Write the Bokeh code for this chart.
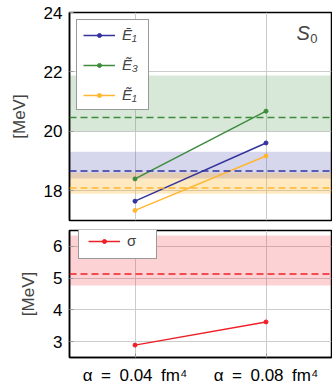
from bokeh.plotting import figure
from bokeh.layouts import column
from bokeh.models import Range1d, FixedTicker, Span, BoxAnnotation, Label
from bokeh.embed import file_html
from bokeh.resources import INLINE

alpha = [0.04, 0.08]
alpha_labels = {0.04: "α\u2002=\u20020.04\u2002fm⁴", 0.08: "α\u2002=\u20020.08\u2002fm⁴"}

# top panel series
E1bar = [17.65, 19.61]
E3til = [18.40, 20.68]
E1til = [17.34, 19.17]
# reference values (dashed) and bands
E1bar_ref, E1bar_lo, E1bar_hi = 18.67, 18.41, 19.31
E3til_ref, E3til_lo, E3til_hi = 20.47, 20.00, 21.88
E1til_ref, E1til_lo, E1til_hi = 18.09, 17.90, 18.61

# bottom panel
sigma = [2.89, 3.62]
sigma_ref, sigma_lo, sigma_hi = 5.13, 4.77, 6.34

top_ticks = [18, 20, 22, 24]
bot_ticks = [3, 4, 5, 6]

BLUE = "#33339e"
GREEN = "#3c8c3c"
ORANGE = "#ffb732"
RED = "#ee2026"
FONT = "Liberation Sans"


def style(p, ticks):
    p.outline_line_color = "black"
    p.outline_line_width = 1.5
    p.xaxis.ticker = FixedTicker(ticks=alpha)
    p.yaxis.ticker = FixedTicker(ticks=ticks)
    p.xgrid.grid_line_color = "#cccccc"
    p.ygrid.grid_line_color = "#cccccc"
    for ax in p.axis:
        ax.axis_line_color = "black"
        ax.axis_line_width = 1.5
        ax.major_tick_in = 4
        ax.major_tick_out = 0
        ax.minor_tick_line_color = None
        ax.major_tick_line_color = "#999999"
        ax.major_label_text_font = FONT
        ax.major_label_text_font_size = "17px"
        ax.major_label_text_color = "black"
    p.yaxis.axis_label = "[MeV]"
    p.yaxis.axis_label_text_font = FONT
    p.yaxis.axis_label_text_font_style = "normal"
    p.yaxis.axis_label_text_font_size = "17px"
    p.yaxis.axis_label_standoff = 12
    p.yaxis.major_label_standoff = 7


def band(p, lo, hi, ref, color, a):
    p.add_layout(BoxAnnotation(bottom=lo, top=hi, fill_color=color, fill_alpha=a,
                               line_color=None, level="underlay"))
    p.add_layout(Span(location=ref, dimension="width", line_color=color,
                      line_width=1.5, line_dash="7 4"))


def series(p, y, color, label):
    p.line(alpha, y, line_color=color, line_width=1.5, legend_label=label)
    p.scatter(alpha, y, size=4, color=color, legend_label=label)


def style_legend(p, loc, pad, spacing):
    lg = p.legend[0]
    lg.location = loc
    lg.margin = 7
    lg.padding = pad
    lg.spacing = spacing
    lg.label_text_font = FONT
    lg.label_text_font_size = "15px"
    lg.label_text_font_style = "italic"
    lg.label_standoff = 7
    lg.glyph_width = 32
    lg.glyph_height = 10
    lg.label_height = 10
    lg.border_line_color = "#333333"
    lg.border_line_width = 1
    lg.background_fill_alpha = 1


p1 = figure(width=332, height=225, x_range=Range1d(0.02, 0.1), y_range=Range1d(17, 24),
            output_backend="svg", toolbar_location=None,
            min_border_left=69, min_border_right=1, min_border_top=12, min_border_bottom=5)
style(p1, top_ticks)
p1.xaxis.visible = False
band(p1, E3til_lo, E3til_hi, E3til_ref, GREEN, 0.2)
band(p1, E1bar_lo, E1bar_hi, E1bar_ref, BLUE, 0.2)
band(p1, E1til_lo, E1til_hi, E1til_ref, ORANGE, 0.3)
series(p1, E1bar, BLUE, "Ē₁")
series(p1, E3til, GREEN, "Ẽ₃")
series(p1, E1til, ORANGE, "Ẽ₁")
style_legend(p1, "top_left", 6, 13)
p1.add_layout(Label(x=0.0934, y=23.31, text="S", text_align="right", text_baseline="middle",
                    text_font=FONT, text_font_size="20px", text_font_style="italic"))
p1.add_layout(Label(x=0.0935, y=23.11, text="0", text_align="left", text_baseline="middle",
                    text_font=FONT, text_font_size="13px"))

p2 = figure(width=332, height=162, x_range=Range1d(0.02, 0.1), y_range=Range1d(2.5, 6.5),
            output_backend="svg", toolbar_location=None,
            min_border_left=69, min_border_right=1, min_border_top=5, min_border_bottom=29)
style(p2, bot_ticks)
p2.xaxis.major_label_overrides = alpha_labels
p2.xaxis.major_label_standoff = 8
band(p2, sigma_lo, sigma_hi, sigma_ref, RED, 0.2)
series(p2, sigma, RED, "σ")
style_legend(p2, (9, 98), 9, 17)
p2.legend[0].label_text_font_style = "normal"

layout = column(p1, p2, spacing=0)
open("out.html", "w").write(file_html(layout, INLINE))
